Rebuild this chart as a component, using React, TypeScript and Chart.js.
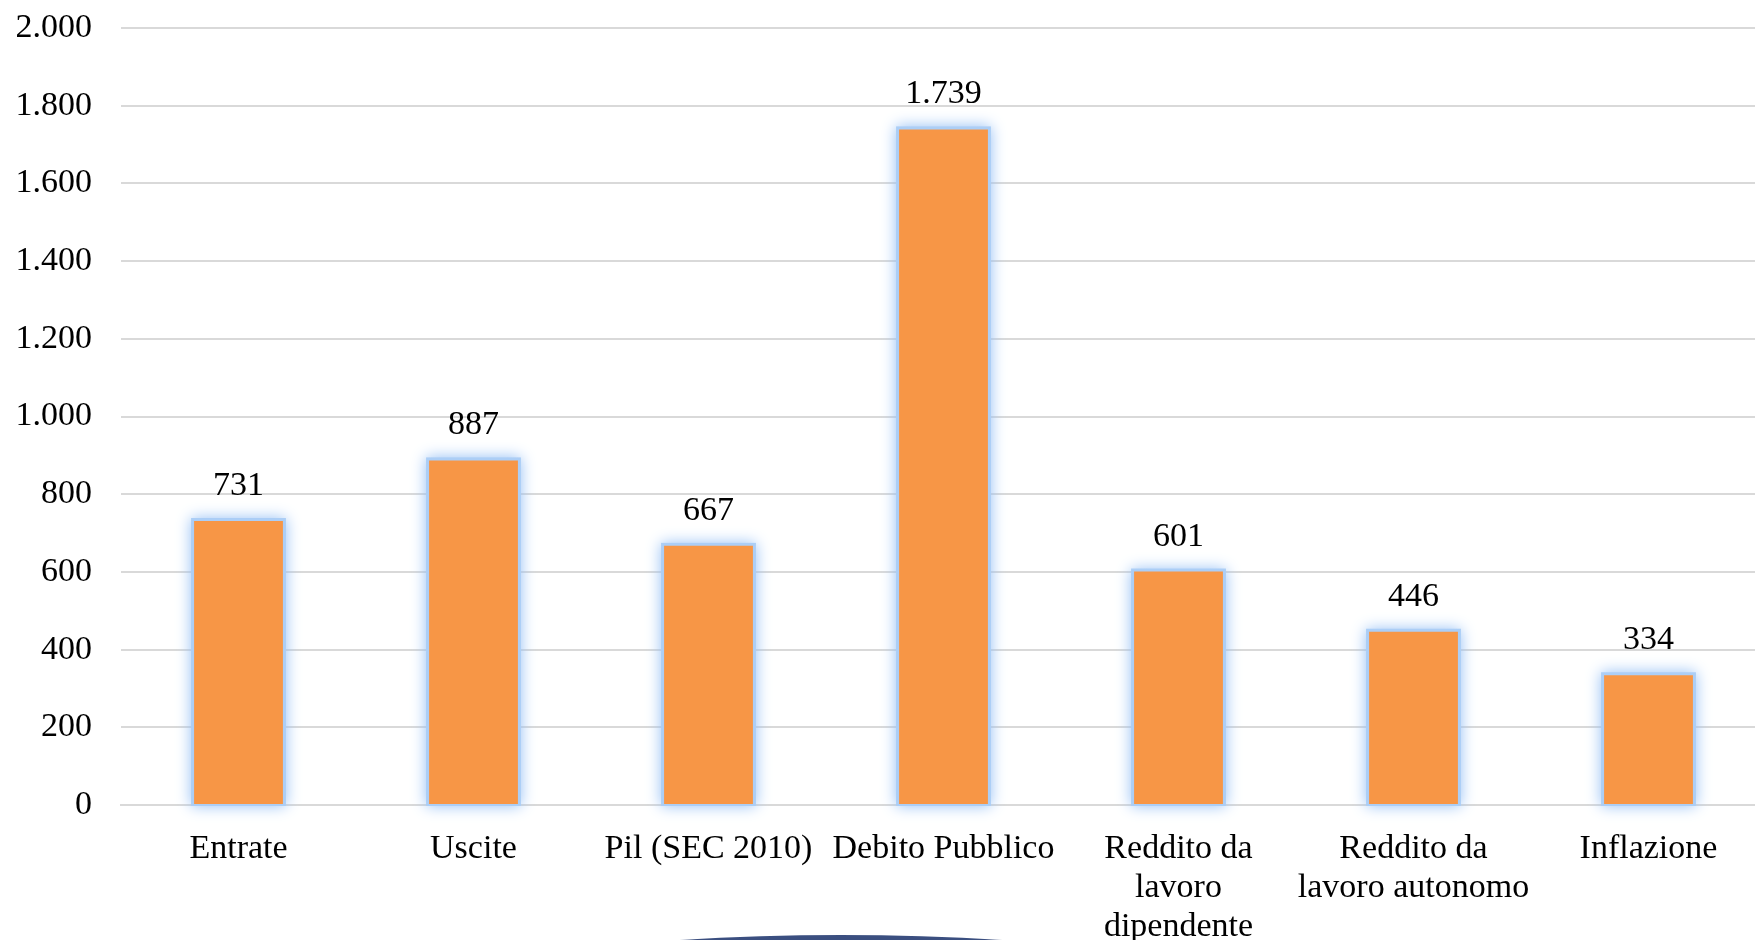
import React, { useEffect, useRef } from "react";
import { Chart, registerables } from "chart.js";

Chart.register(...registerables);

const categories: string[][] = [
  ["Entrate"],
  ["Uscite"],
  ["Pil (SEC 2010)"],
  ["Debito Pubblico"],
  ["Reddito da", "lavoro", "dipendente"],
  ["Reddito da", "lavoro autonomo"],
  ["Inflazione"],
];
const values: number[] = [731, 887, 667, 1739, 601, 446, 334];
const yMin = 0;
const yMax = 2000;
const yStep = 200;

const FONT = "'Liberation Serif', 'Times New Roman', serif";

function fmt(n: number): string {
  const s = Math.round(n).toString();
  return s.replace(/\B(?=(\d{3})+(?!\d))/g, ".");
}

const glowPlugin = {
  id: "glow",
  beforeDatasetsDraw(chart: any) {
    const ctx = chart.ctx;
    ctx.save();
    ctx.shadowColor = "rgba(150,192,245,1)";
    ctx.shadowBlur = 14;
    const meta = chart.getDatasetMeta(0);
    meta.data.forEach((bar: any) => {
      const w = bar.width;
      const top = bar.y;
      const bottom = bar.base;
      ctx.fillStyle = "rgba(172,206,246,1)";
      ctx.fillRect(bar.x - w / 2 - 3, top - 3, w + 6, bottom - top + 5);
    });
    ctx.restore();
  },
};

const labelPlugin = {
  id: "valueLabels",
  afterDatasetsDraw(chart: any) {
    const ctx = chart.ctx;
    const meta = chart.getDatasetMeta(0);
    ctx.save();
    ctx.font = `34px ${FONT}`;
    ctx.fillStyle = "#000";
    ctx.textAlign = "center";
    ctx.textBaseline = "alphabetic";
    meta.data.forEach((bar: any, i: number) => {
      ctx.fillText(fmt(values[i]), bar.x, bar.y - 26);
    });
    ctx.restore();
  },
};

const decoPlugin = {
  id: "deco",
  afterDraw(chart: any) {
    const ctx = chart.ctx;
    const x0 = 650;
    const x1 = 1032;
    ctx.save();
    const g = ctx.createLinearGradient(x0, 0, x1, 0);
    g.addColorStop(0, "rgba(59,79,128,0)");
    g.addColorStop(0.12, "rgba(59,79,128,1)");
    g.addColorStop(0.88, "rgba(59,79,128,1)");
    g.addColorStop(1, "rgba(59,79,128,0)");
    ctx.fillStyle = g;
    ctx.beginPath();
    ctx.moveTo(x0, 942);
    ctx.quadraticCurveTo((x0 + x1) / 2, 928, x1, 942);
    ctx.closePath();
    ctx.fill();
    ctx.restore();
  },
};

export default function App() {
  const ref = useRef<HTMLCanvasElement | null>(null);
  useEffect(() => {
    document.body.style.margin = "0";
    document.body.style.overflow = "hidden";
    document.documentElement.style.overflow = "hidden";
    const ctx = ref.current!.getContext("2d")!;
    const chart = new Chart(ctx, {
      type: "bar",
      data: {
        labels: categories,
        datasets: [
          {
            data: values,
            backgroundColor: "#f79646",
            borderWidth: 0,
            categoryPercentage: 1,
            barPercentage: 0.378,
          },
        ],
      },
      options: {
        animation: false,
        responsive: false,
        maintainAspectRatio: false,
        layout: { padding: { top: 28, right: 14, left: 0, bottom: 0 } },
        plugins: {
          legend: { display: false },
          tooltip: { enabled: false },
        },
        scales: {
          x: {
            grid: { display: false, drawTicks: false },
            border: { display: true, color: "#d9d9d9", width: 2 },
            ticks: {
              color: "#000",
              font: { family: FONT, size: 34, lineHeight: 1.14 },
              padding: 25,
              maxRotation: 0,
              autoSkip: false,
            },
            afterFit(scale: any) {
              scale.height = 135;
            },
          },
          y: {
            min: yMin,
            max: yMax,
            grid: { color: "#d9d9d9", lineWidth: 2, drawTicks: false },
            border: { display: false },
            ticks: {
              stepSize: yStep,
              color: "#000",
              font: { family: FONT, size: 34 },
              padding: 29,
              callback: (v: any) => fmt(Number(v)),
            },
            afterFit(scale: any) {
              scale.width = 121;
              scale.paddingTop = 0;
              scale.paddingBottom = 0;
            },
          },
        },
      },
      plugins: [glowPlugin, labelPlugin, decoPlugin],
    });
    return () => chart.destroy();
  }, []);
  return (
    <div style={{ position: "fixed", left: 0, top: 0, width: 1780, height: 940, background: "#fff" }}>
      <canvas ref={ref} width={1780} height={940} style={{ width: 1780, height: 940, display: "block" }} />
    </div>
  );
}
